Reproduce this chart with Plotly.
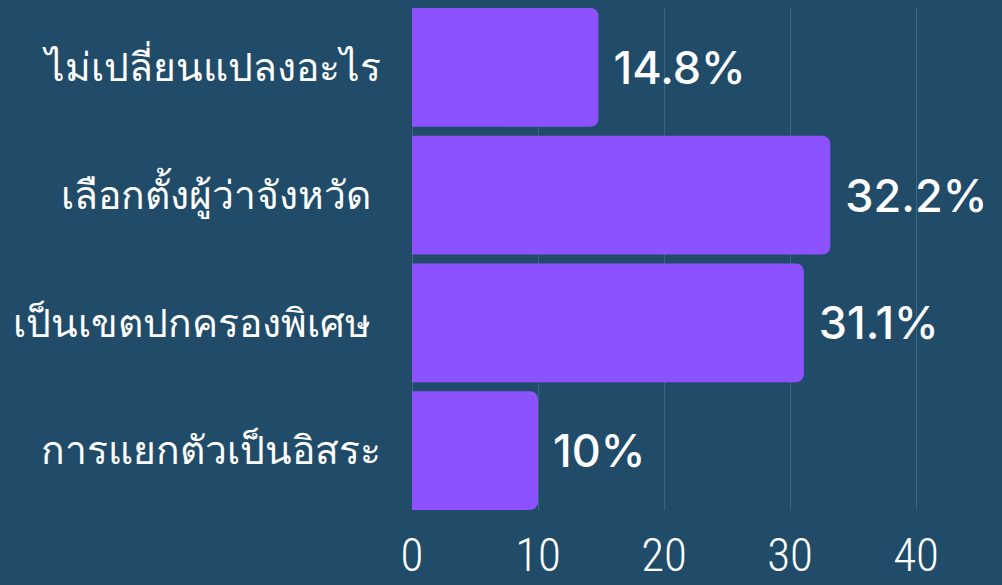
import plotly.graph_objects as go

categories = ["ไม่เปลี่ยนแปลงอะไร", "เลือกตั้งผู้ว่าจังหวัด ", "เป็นเขตปกครองพิเศษ ", "การแยกตัวเป็นอิสระ"]
values = [14.8, 33.2, 31.1, 10]
value_labels = ["14.8%", "32.2%", "31.1%", "10%"]
tick_vals = [0, 10, 20, 30, 40]

BG = "#204c6a"
BAR = "#8c52ff"
GRID = "#3b6680"
GAP = 0.07

fig = go.Figure(go.Bar(
    y=categories,
    x=values,
    orientation="h",
    marker=dict(color=BAR, line=dict(width=0)),
    text=value_labels,
    textposition="outside",
    texttemplate=" %{text}",
    textfont=dict(family="Inter", size=45, color="white", weight=500),
    cliponaxis=False,
    hoverinfo="skip",
))

fig.update_layout(
    width=1002, height=585,
    paper_bgcolor=BG, plot_bgcolor=BG,
    margin=dict(l=412, r=23, t=8, b=75, autoexpand=False),
    bargap=GAP,
    barcornerradius=8,
    showlegend=False,
)
fig.update_xaxes(
    range=[0, 45],
    tickvals=tick_vals,
    showgrid=True, gridcolor=GRID, gridwidth=1,
    zeroline=True, zerolinecolor=GRID, zerolinewidth=1,
    showline=False,
    tickfont=dict(family="Roboto Condensed", size=47, color="white", weight=300),
    ticklabelstandoff=13,
)
fig.update_yaxes(
    categoryorder="array", categoryarray=categories[::-1],
    range=[-0.5 + GAP / 2, len(categories) - 0.5 - GAP / 2],
    showgrid=False, zeroline=False, showline=False,
    tickfont=dict(family="Noto Sans", size=39, color="white"),
    ticklabelstandoff=30,
    automargin=False,
)

fig.write_html("out.html", config={"displayModeBar": False},
               post_script="document.body.style.margin='0';document.body.style.background='" + BG + "';")
